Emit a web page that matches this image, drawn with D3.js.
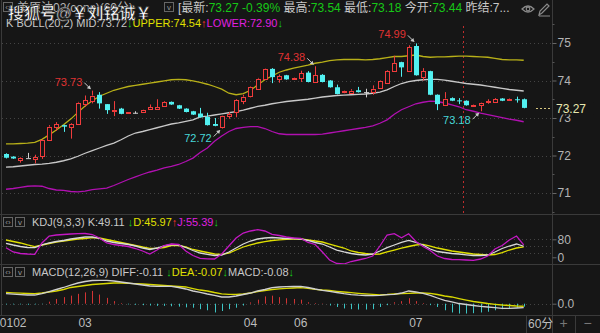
<!DOCTYPE html>
<html>
<head>
    <meta charset="UTF-8">
    <title></title>
    <style>
        body { margin: 0; background: #161616; }
        svg { display: block; }
        text { font-family: "Liberation Sans", "Noto Sans CJK SC", sans-serif; }
    </style>
    <script src="https://cdnjs.cloudflare.com/ajax/libs/d3/7.8.5/d3.min.js"></script>
</head>
<body>
<svg id="chart" width="600" height="333"></svg>
<script>
    // 60分 K线
    var open = [72.04, 71.97, 71.88, 71.93, 71.91, 71.97, 72.42, 72.75, 72.81, 72.75,
        72.84, 73.37, 73.46, 73.62, 73.37, 73.21, 73.25, 73.13, 73.14, 73.16,
        73.23, 73.24, 73.32, 73.43, 73.34, 73.25, 73.18, 73.12, 73.03, 72.84,
        72.75, 73.05, 73.16, 73.45, 73.57, 73.78, 74.05, 74.31, 74.05, 74.14,
        74.06, 74.05, 74.21, 73.96, 74.15, 74.00, 73.82, 73.67, 73.69, 73.74,
        73.69, 73.69, 73.80, 73.94, 74.26, 74.49, 74.25, 74.92, 74.10, 74.25,
        73.62, 73.37, 73.53, 73.47, 73.46, 73.35, 73.36, 73.44, 73.43, 73.52,
        73.49, 73.50, 73.50];
    var close = [71.94, 71.92, 71.93, 71.93, 71.95, 72.41, 72.77, 72.84, 72.77, 72.84,
        73.41, 73.48, 73.60, 73.39, 73.21, 73.22, 73.11, 73.15, 73.14, 73.21,
        73.29, 73.29, 73.43, 73.36, 73.25, 73.16, 73.09, 73.02, 72.81, 72.79,
        73.05, 73.11, 73.48, 73.57, 73.82, 74.05, 74.31, 74.09, 74.12, 74.03,
        74.08, 74.19, 73.96, 74.14, 73.96, 73.82, 73.64, 73.71, 73.73, 73.69,
        73.69, 73.78, 73.98, 74.26, 74.47, 74.35, 74.89, 74.14, 74.25, 73.62,
        73.37, 73.52, 73.46, 73.46, 73.34, 73.36, 73.41, 73.45, 73.50, 73.46,
        73.50, 73.49, 73.27];
    var high = [72.06, 71.98, 71.95, 72.07, 72.02, 72.43, 72.81, 72.89, 72.82, 72.86,
        73.43, 73.60, 73.73, 73.69, 73.37, 73.45, 73.27, 73.16, 73.18, 73.22,
        73.36, 73.50, 73.45, 73.44, 73.35, 73.26, 73.19, 73.27, 73.14, 73.00,
        73.06, 73.16, 73.50, 73.62, 73.84, 74.07, 74.32, 74.33, 74.16, 74.15,
        74.09, 74.26, 74.25, 74.38, 74.17, 74.01, 73.89, 73.73, 73.77, 73.83,
        73.78, 73.87, 74.00, 74.28, 74.66, 74.50, 74.94, 74.99, 74.33, 74.26,
        73.63, 73.69, 73.55, 73.53, 73.47, 73.37, 73.42, 73.50, 73.53, 73.53,
        73.52, 73.57, 73.52];
    var low = [71.92, 71.91, 71.81, 71.93, 71.79, 71.91, 72.40, 72.66, 72.63, 72.45,
        72.83, 73.30, 73.39, 73.25, 73.11, 73.05, 73.10, 73.12, 73.12, 73.15,
        73.22, 73.23, 73.30, 73.35, 73.24, 73.15, 73.08, 73.01, 72.80, 72.78,
        72.72, 72.98, 73.02, 73.37, 73.55, 73.77, 74.03, 73.93, 73.94, 74.02,
        74.05, 73.96, 73.95, 73.95, 73.95, 73.81, 73.63, 73.66, 73.64, 73.68,
        73.55, 73.62, 73.79, 73.93, 74.24, 74.10, 74.24, 74.13, 74.00, 73.61,
        73.21, 73.36, 73.45, 73.37, 73.33, 73.34, 73.18, 73.38, 73.42, 73.45,
        73.48, 73.41, 73.26];

    // BOLL(20,2)
    var bollUpper = [72.31, 72.31, 72.32, 72.33, 72.35, 72.43, 72.55, 72.68, 72.82, 72.97,
        73.15, 73.32, 73.46, 73.58, 73.66, 73.74, 73.79, 73.84, 73.87, 73.90,
        73.93, 73.96, 73.99, 74.02, 74.03, 74.02, 73.99, 73.95, 73.90, 73.84,
        73.77, 73.66, 73.62, 73.65, 73.74, 73.88, 74.02, 74.12, 74.22, 74.28,
        74.33, 74.37, 74.41, 74.46, 74.49, 74.53, 74.55, 74.56, 74.56, 74.56,
        74.55, 74.56, 74.58, 74.61, 74.64, 74.64, 74.66, 74.68, 74.64, 74.62,
        74.63, 74.63, 74.64, 74.65, 74.65, 74.64, 74.63, 74.62, 74.59, 74.56,
        74.55, 74.55, 74.54];
    var bollMid = [71.69, 71.70, 71.72, 71.74, 71.76, 71.77, 71.79, 71.82, 71.86, 71.91,
        71.98, 72.06, 72.13, 72.20, 72.27, 72.33, 72.42, 72.52, 72.60, 72.64,
        72.69, 72.74, 72.79, 72.84, 72.87, 72.91, 72.95, 73.03, 73.05, 73.08,
        73.11, 73.14, 73.17, 73.21, 73.26, 73.31, 73.34, 73.38, 73.41, 73.44,
        73.46, 73.48, 73.50, 73.53, 73.56, 73.58, 73.60, 73.61, 73.62, 73.63,
        73.64, 73.66, 73.69, 73.75, 73.84, 73.92, 73.97, 74.00, 74.02, 74.03,
        74.03, 74.01, 73.98, 73.95, 73.92, 73.90, 73.88, 73.85, 73.82, 73.79,
        73.76, 73.74, 73.72];
    var bollLower = [71.10, 71.12, 71.15, 71.18, 71.19, 71.18, 71.12, 71.08, 71.07, 71.04,
        71.03, 71.05, 71.09, 71.11, 71.13, 71.20, 71.28, 71.36, 71.43, 71.50,
        71.56, 71.61, 71.67, 71.71, 71.76, 71.84, 71.93, 72.08, 72.20, 72.38,
        72.52, 72.64, 72.72, 72.75, 72.77, 72.77, 72.72, 72.64, 72.58, 72.56,
        72.56, 72.56, 72.56, 72.56, 72.57, 72.60, 72.63, 72.66, 72.69, 72.72,
        72.75, 72.79, 72.86, 72.95, 73.10, 73.22, 73.30, 73.38, 73.42, 73.45,
        73.44, 73.40, 73.35, 73.30, 73.22, 73.18, 73.13, 73.09, 73.05, 73.01,
        72.97, 72.94, 72.90];

    // KDJ(9,3,3)
    var kLine = [62.2, 54.7, 48.0, 43.6, 42.7, 54.7, 63.6, 70.2, 74.7, 81.3,
        85.8, 90.2, 90.2, 84.4, 72.4, 65.8, 61.3, 56.9, 50.2, 41.3,
        34.7, 41.3, 50.2, 56.9, 54.7, 43.6, 30.2, 19.1, 13.3, 8.0,
        10.2, 23.6, 41.3, 59.1, 72.4, 81.3, 85.8, 88.0, 85.8, 83.6,
        83.6, 81.3, 74.7, 65.8, 59.1, 45.8, 32.4, 23.6, 16.9, 12.4,
        10.2, 14.7, 28.0, 42.7, 54.7, 66.7, 74.7, 65.8, 54.7, 36.9,
        25.8, 21.3, 16.9, 14.7, 11.1, 8.0, 8.0, 10.2, 23.6, 39.1,
        50.2, 59.1, 49.11];
    var dLine = [76.9, 70.2, 63.6, 54.7, 47.1, 54.7, 61.3, 68.0, 72.4, 76.9,
        81.3, 83.6, 87.1, 85.8, 79.1, 72.4, 65.8, 59.1, 52.4, 45.8,
        40.0, 40.0, 43.6, 52.4, 52.4, 45.8, 34.7, 28.0, 21.3, 14.7,
        13.3, 19.1, 32.4, 45.8, 54.7, 63.6, 69.3, 74.7, 77.8, 80.0,
        81.3, 81.3, 76.9, 72.4, 68.0, 59.1, 50.2, 41.3, 28.0, 21.3,
        16.9, 13.3, 14.7, 23.6, 32.4, 41.3, 48.0, 54.7, 57.8, 50.2,
        41.3, 34.7, 28.0, 23.6, 19.1, 14.7, 12.4, 10.2, 12.4, 21.3,
        32.4, 41.3, 45.97];
    var jLine = [42.7, 23.6, 16.9, 14.7, 13.3, 63.6, 94.7, 99.1, 101.3, 103.6,
        104.9, 105.8, 101.3, 85.8, 63.6, 56.9, 52.4, 48.0, 39.1, 28.0,
        14.7, 32.4, 52.4, 59.1, 57.8, 28.0, 8.0, -4.4, -6.7, -7.6,
        14.7, 50.2, 85.8, 108.0, 116.9, 122.7, 116.9, 102.2, 96.9, 90.2,
        85.8, 84.4, 65.8, 56.9, 23.6, -12.0, -27.6, -29.8, -18.7, -12.0,
        -5.3, 5.8, 50.2, 99.1, 104.9, 87.1, 104.9, 70.2, 48.0, 30.2,
        5.8, -5.3, -9.8, -10.7, -12.0, -13.3, -7.6, 5.8, 36.9, 52.4,
        76.9, 94.7, 55.39];

    // MACD(12,26,9)
    var diff = [0.274, 0.260, 0.249, 0.238, 0.238, 0.279, 0.334, 0.389, 0.444, 0.512,
        0.567, 0.608, 0.636, 0.641, 0.641, 0.622, 0.595, 0.567, 0.540, 0.512,
        0.485, 0.477, 0.477, 0.477, 0.444, 0.403, 0.348, 0.312, 0.266, 0.225,
        0.184, 0.184, 0.211, 0.252, 0.293, 0.348, 0.389, 0.438, 0.458, 0.466,
        0.471, 0.477, 0.444, 0.403, 0.367, 0.340, 0.307, 0.274, 0.247, 0.233,
        0.225, 0.219, 0.230, 0.247, 0.258, 0.293, 0.348, 0.321, 0.285, 0.225,
        0.156, 0.088, 0.047, 0.005, -0.022, -0.049, -0.071, -0.090, -0.110, -0.126,
        -0.126, -0.118, -0.11];
    var dea = [0.312, 0.299, 0.288, 0.279, 0.274, 0.293, 0.321, 0.348, 0.389, 0.444,
        0.471, 0.499, 0.526, 0.540, 0.553, 0.567, 0.567, 0.559, 0.548, 0.540,
        0.526, 0.512, 0.499, 0.485, 0.471, 0.458, 0.416, 0.375, 0.348, 0.307,
        0.271, 0.258, 0.258, 0.266, 0.293, 0.334, 0.362, 0.389, 0.408, 0.422,
        0.430, 0.438, 0.422, 0.395, 0.375, 0.362, 0.340, 0.321, 0.301, 0.285,
        0.271, 0.258, 0.244, 0.252, 0.266, 0.274, 0.285, 0.293, 0.293, 0.285,
        0.252, 0.211, 0.184, 0.142, 0.101, 0.060, 0.033, 0.005, -0.016, -0.036,
        -0.049, -0.063, -0.07];
    var macdBar = [-0.02, -0.02, -0.02, -0.03, -0.02, -0.01, 0.055, 0.13, 0.18, 0.22,
        0.27, 0.31, 0.35, 0.25, 0.16, 0.07, 0.02, -0.02, -0.03, -0.04,
        -0.05, -0.06, -0.06, -0.07, -0.08, -0.10, -0.11, -0.15, -0.18, -0.24,
        -0.20, -0.15, -0.11, -0.05, 0.035, 0.11, 0.20, 0.22, 0.18, 0.15,
        0.13, 0.11, 0.04, 0.02, 0.01, -0.05, -0.09, -0.13, -0.15, -0.16,
        -0.16, -0.15, -0.09, -0.04, 0.04, 0.07, 0.15, 0.07, 0.02, -0.04,
        -0.09, -0.18, -0.24, -0.27, -0.27, -0.26, -0.24, -0.22, -0.18, -0.15,
        -0.13, -0.11, -0.08];

    var xTickIdx = [1, 11, 34, 41, 57];
    var xTickLabels = ["0102", "03", "04", "06", "07"];
    var priceTicks = [71, 72, 73, 74, 75];
    var kdjTicks = [0, 80];
    var kdjGrid = [20, 50, 80];
    var macdTicks = [0];
    var lastPrice = 73.27;
    var sessionStart = 63.5;

    var RED = "#f03c3c", CYAN = "#52f0f0", BG = "#161616", GRID = "#444";
    var W = 600, H = 333, AX = 552.5;

    var svg = d3.select("#chart");
    svg.append("rect").attr("width", W).attr("height", H).attr("fill", BG);

    var x = d3.scaleLinear().domain([0, 72]).range([6, 523.7]);
    var yP = d3.scaleLinear().domain([71, 75]).range([193, 43]);
    var yK = d3.scaleLinear().domain([0, 80]).range([257.3, 239.3]);
    var yM = d3.scaleLinear().domain([0, 1]).range([303.7, 267.2]);
    var px = function (i) { return Math.round(x(i)) + 0.5; };

    var defs = svg.append("defs");
    [["clipMain", 15, 214], ["clipKdj", 215, 264], ["clipMacd", 265, 315]].forEach(function (c) {
        defs.append("clipPath").attr("id", c[0]).append("rect")
            .attr("x", 2).attr("y", c[1]).attr("width", AX - 2.5).attr("height", c[2] - c[1]);
    });

    // 网格
    function hgrid(vals, scale) {
        svg.append("g").selectAll("line").data(vals).enter().append("line")
            .attr("x1", 2).attr("x2", AX)
            .attr("y1", function (d) { return Math.round(scale(d)) + 0.5; })
            .attr("y2", function (d) { return Math.round(scale(d)) + 0.5; })
            .attr("stroke", GRID).attr("stroke-dasharray", "1,3");
    }
    hgrid(priceTicks, yP);
    hgrid(kdjGrid, yK);
    hgrid(macdTicks, yM);

    svg.append("line")
        .attr("x1", Math.round(x(sessionStart)) + 0.5).attr("x2", Math.round(x(sessionStart)) + 0.5)
        .attr("y1", 26).attr("y2", 214)
        .attr("stroke", "#c02c2c").attr("stroke-dasharray", "2,3");

    // 布林线
    var main = svg.append("g").attr("clip-path", "url(#clipMain)");
    function drawLine(g, arr, scale, color) {
        g.append("path").datum(arr)
            .attr("fill", "none").attr("stroke", color).attr("stroke-width", 1.3)
            .attr("d", d3.line().x(function (d, i) { return x(i); }).y(function (d) { return scale(d); }));
    }
    drawLine(main, bollUpper, yP, "#b8b018");
    drawLine(main, bollMid, yP, "#c8c8c8");
    drawLine(main, bollLower, yP, "#b010b0");

    // K线
    var idx = d3.range(open.length);
    var candle = main.selectAll("g.c").data(idx).enter().append("g");
    candle.each(function (i) {
        var g = d3.select(this);
        var cx = px(i);
        var up = close[i] > open[i], flat = close[i] === open[i];
        var color = flat ? "#d0d0d0" : (up ? RED : CYAN);
        var top = yP(Math.max(open[i], close[i])), bot = yP(Math.min(open[i], close[i]));
        if (bot - top < 1) { bot = top + 1; }
        if (up) {
            g.append("line").attr("x1", cx).attr("x2", cx).attr("y1", yP(high[i])).attr("y2", top)
                .attr("stroke", color);
            g.append("line").attr("x1", cx).attr("x2", cx).attr("y1", bot).attr("y2", yP(low[i]))
                .attr("stroke", color);
            g.append("rect").attr("x", cx - 2).attr("y", Math.round(top) + 0.5)
                .attr("width", 4).attr("height", Math.max(1, Math.round(bot - top)))
                .attr("fill", BG).attr("stroke", color);
        } else {
            g.append("line").attr("x1", cx).attr("x2", cx).attr("y1", yP(high[i])).attr("y2", yP(low[i]))
                .attr("stroke", color);
            g.append("rect").attr("x", cx - 2.5).attr("y", top)
                .attr("width", 5).attr("height", bot - top).attr("fill", color);
        }
    });

    // 高低点标注
    var marks = [
        {i: 12, v: high[12], up: true},
        {i: 43, v: high[43], up: true},
        {i: 57, v: high[57], up: true},
        {i: 30, v: low[30], up: false},
        {i: 66, v: low[66], up: false}
    ];
    marks.forEach(function (m) {
        var cx = x(m.i), cy = yP(m.v), s = m.up ? -1 : 1;
        svg.append("text").attr("x", cx - 10).attr("y", cy + s * 9 + 4)
            .attr("text-anchor", "end").attr("font-size", 11)
            .attr("fill", m.up ? "#e03232" : "#48d8d8")
            .text(m.v.toFixed(2));
        svg.append("line").attr("x1", cx - 8).attr("y1", cy + s * 8)
            .attr("x2", cx - 2).attr("y2", cy + s * 2)
            .attr("stroke", "#c8c8c8");
        svg.append("path")
            .attr("d", "M" + (cx - 1.5) + "," + (cy + s * 1.5) + "l-4," + (s * 1) + "l3," + (s * 3) + "z")
            .attr("fill", "#c8c8c8");
    });

    // KDJ
    var kdj = svg.append("g").attr("clip-path", "url(#clipKdj)");
    drawLine(kdj, dLine, yK, "#e0e000");
    drawLine(kdj, kLine, yK, "#d8d8d8");
    drawLine(kdj, jLine, yK, "#c418c4");

    // MACD
    var macd = svg.append("g").attr("clip-path", "url(#clipMacd)");
    macd.selectAll("line").data(idx).enter().append("line")
        .attr("x1", function (i) { return px(i); })
        .attr("x2", function (i) { return px(i); })
        .attr("y1", yM(0))
        .attr("y2", function (i) { return yM(macdBar[i]); })
        .attr("stroke", function (i) { return macdBar[i] > 0 ? "#d23434" : "#3cc4c4"; });
    drawLine(macd, dea, yM, "#d8d800");
    drawLine(macd, diff, yM, "#d0d0d0");

    // 边框
    var frame = svg.append("g").attr("stroke", "#3a3a3a").attr("fill", "none");
    frame.append("line").attr("x1", 1.5).attr("x2", 1.5).attr("y1", 0).attr("y2", 315);
    frame.append("line").attr("x1", AX).attr("x2", AX).attr("y1", 0).attr("y2", H);
    [214.5, 264.5, 315.5].forEach(function (y) {
        frame.append("line").attr("x1", 0).attr("x2", W).attr("y1", y).attr("y2", y);
    });
    frame.append("line").attr("x1", 526.5).attr("x2", 526.5).attr("y1", 315).attr("y2", H);
    frame.append("line").attr("x1", 575.5).attr("x2", 575.5).attr("y1", 315).attr("y2", H);

    // 坐标轴
    function rightAxis(scale, ticks, fmt) {
        var g = svg.append("g").attr("transform", "translate(" + AX + ",0)")
            .call(d3.axisRight(scale).tickValues(ticks).tickSize(4).tickPadding(1).tickFormat(fmt));
        g.select(".domain").remove();
        g.selectAll("line").attr("stroke", "#666");
        g.selectAll("text").attr("fill", "#b4b4b4").attr("font-size", 12)
            .attr("font-family", "Liberation Sans, sans-serif");
        return g;
    }
    var minor = d3.range(70.5, 75.6, 0.5).filter(function (v) { return v % 1 !== 0; });
    svg.append("g").selectAll("line").data(minor).enter().append("line")
        .attr("x1", AX).attr("x2", AX + 2)
        .attr("y1", function (d) { return Math.round(yP(d)) + 0.5; })
        .attr("y2", function (d) { return Math.round(yP(d)) + 0.5; })
        .attr("stroke", "#555");
    rightAxis(yP, priceTicks, d3.format("d"));
    rightAxis(yK, kdjTicks, d3.format("d"));
    rightAxis(yM, macdTicks, d3.format(".1f"));

    // 最新价
    var ly = Math.round(yP(lastPrice)) + 0.5;
    svg.append("line").attr("x1", 536).attr("x2", 551).attr("y1", ly).attr("y2", ly)
        .attr("stroke", "#d8c880").attr("stroke-dasharray", "2,2");
    svg.append("rect").attr("x", AX + 1).attr("y", ly - 6).attr("width", 40).attr("height", 12).attr("fill", BG);
    svg.append("text").attr("x", 556).attr("y", ly + 4.5).attr("font-size", 12)
        .attr("fill", "#e8e8b0").text(lastPrice.toFixed(2));

    // 时间轴
    svg.append("g").selectAll("text").data(xTickIdx).enter().append("text")
        .attr("x", function (d) { return x(d); })
        .attr("y", 327)
        .attr("text-anchor", "middle").attr("font-size", 12).attr("fill", "#bdbdbd")
        .text(function (d, i) { return xTickLabels[i]; });
    svg.append("text").attr("x", 528).attr("y", 328).attr("font-size", 12).attr("fill", "#bdbdbd").text("60分");
    svg.append("text").attr("x", 563.5).attr("y", 328).attr("text-anchor", "middle")
        .attr("font-size", 14).attr("fill", "#777").text("+");
    svg.append("text").attr("x", 587.5).attr("y", 328).attr("text-anchor", "middle")
        .attr("font-size", 14).attr("fill", "#777").text("−");

    // 标题
    function iconBox(x0, y0, label) {
        svg.append("rect").attr("x", x0 + 0.5).attr("y", y0 + 0.5).attr("width", 9).attr("height", 9)
            .attr("fill", "none").attr("stroke", "#666");
        svg.append("text").attr("x", x0 + 5).attr("y", y0 + 8).attr("text-anchor", "middle")
            .attr("font-size", 8).attr("fill", "#999").text(label);
    }
    iconBox(3, 2, "‹›");
    svg.append("text").attr("x", 17).attr("y", 11.5).attr("font-size", 12).attr("fill", "#b4b4b4")
        .text("美原油02(conc)(60分)");
    iconBox(164, 2, "v");

    function infoLine(xp, yp, size, parts) {
        var t = svg.append("text").attr("x", xp).attr("y", yp).attr("font-size", size);
        parts.forEach(function (p) { t.append("tspan").attr("fill", p[1]).text(p[0]); });
    }
    var GREEN = "#16c816", LIGHT = "#c8c8c8";
    infoLine(178, 11.5, 12, [["[最新:", LIGHT], ["73.27 -0.39%", GREEN], [" 最高:", LIGHT], ["73.54", GREEN],
        [" 最低:", LIGHT], ["73.18", GREEN], [" 今开:", LIGHT], ["73.44", GREEN], [" 昨结:7...", LIGHT]]);
    infoLine(6, 27, 11, [["K BOLL(20,2) MID:73.72", LIGHT], ["↓", GREEN], ["UPPER:74.54", "#e0e000"],
        ["↑", "#ff3030"], ["LOWER:72.90", "#e020e0"], ["↓", GREEN]]);

    iconBox(3, 217, "‹›");
    iconBox(15, 217, "v");
    infoLine(32, 226, 11, [["KDJ(9,3,3) K:49.11 ", LIGHT], ["↓", GREEN], ["D:45.97", "#e0e000"],
        ["↑", "#ff3030"], ["J:55.39", "#e020e0"], ["↓", GREEN]]);
    iconBox(3, 267, "‹›");
    iconBox(15, 267, "v");
    infoLine(32, 276, 11, [["MACD(12,26,9) DIFF:-0.11 ", LIGHT], ["↓", GREEN], ["DEA:-0.07", "#e0e000"],
        ["↓", GREEN], ["MACD:-0.08", LIGHT], ["↓", GREEN]]);

    // 右上角图标
    var ic = svg.append("g").attr("fill", "none").attr("stroke", "#8a8a8a").attr("stroke-width", 1.2);
    ic.append("path").attr("d", "M522,9 Q528,3 534,9 Q528,15 522,9 Z");
    ic.append("circle").attr("cx", 528).attr("cy", 9).attr("r", 1.8);
    ic.append("path").attr("d", "M539,15 L540,11 L547,4 L549,6 L542,13 Z M539,16 L550,16");

    // 水印
    svg.append("text").attr("x", 8).attr("y", 19).attr("font-size", 16).attr("font-weight", "bold")
        .attr("font-family", "Noto Sans CJK SC, sans-serif")
        .attr("fill", "#ffffff").attr("stroke", "#202020").attr("stroke-width", 0.6)
        .text("搜狐号@￥刘铭诚￥");
</script>
</body>
</html>
